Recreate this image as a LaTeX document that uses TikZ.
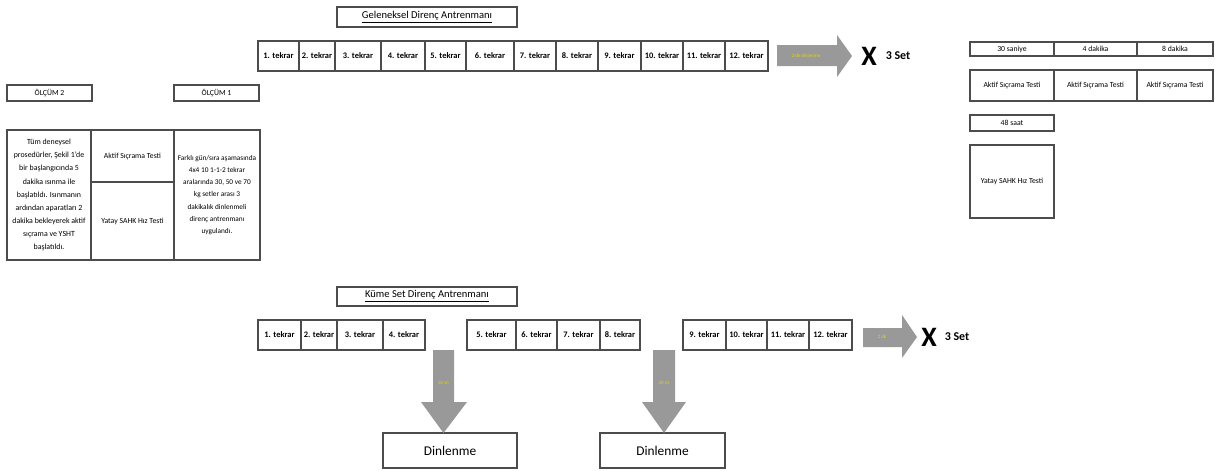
\documentclass[tikz,border=0pt]{standalone}
\usepackage{fontspec}
\setmainfont{Carlito}
\usepackage{tikz}
\usetikzlibrary{positioning}

\tikzset{
  alan/.style n args={4}{minimum width={(#3-#1)*0.025cm}, minimum height={(#4-#2)*0.025cm},
                         at={({(#1+#3)/2},{(#2+#4)/2})}},
  kutu/.style={draw=black!70, line width=0.8pt, inner sep=0pt, font=\fontsize{5.5}{7}\selectfont},
  tekrar/.style={kutu, font=\fontsize{6}{7}\selectfont\bfseries},
  baslik/.style={kutu, font=\fontsize{7.5}{9}\selectfont},
  dinlenme/.style={kutu, font=\fontsize{9.5}{11}\selectfont},
  okgri/.style={fill=gray!80, draw=none},
  oktext/.style={font=\fontsize{3.5}{4}\selectfont, text=yellow!75!olive, inner sep=0pt},
  carpi/.style={font=\fontsize{20}{20}\selectfont\bfseries, inner sep=0pt},
  setyazi/.style={font=\fontsize{8.5}{9}\selectfont\bfseries, inner sep=0pt}
}

\begin{document}
\begin{tikzpicture}[x=0.025cm, y=-0.025cm]
  \useasboundingbox (0,0) rectangle (1215,470);

  % geleneksel direnc antrenmani
  \node[baslik, alan={337}{7}{517}{27}] (gbaslik) {\underline{Geleneksel Direnç Antrenmanı}};
  \foreach \i/\a/\b in {1/258/299, 2/299/335, 3/335/381, 4/381/425, 5/425/466, 6/466/514,
                        7/514/556, 8/556/598, 9/598/641, 10/641/683, 11/683/725, 12/725/768}
    \node[tekrar, alan={\a}{41}{\b}{71}] (g\i) {\i. tekrar};
  \fill[okgri] (777,45) -- (837,45) -- (837,35) -- (852,56) -- (837,77) -- (837,66) -- (777,66) -- cycle;
  \node[oktext] (gdin) at (806,56) {2 dk dinlenme};
  \node[carpi] (gx) at (869,56) {X};
  \node[setyazi] (gset) at (898,56) {3 Set};

  % olcumler
  \node[kutu, alan={7}{85}{92}{101}] (olc2) {ÖLÇÜM 2};
  \node[kutu, alan={174}{85}{259}{101}] (olc1) {ÖLÇÜM 1};
  \node[kutu, alan={7}{130}{91}{260}, font=\fontsize{5.6}{9.3}\selectfont, align=center] (prosedur)
    {Tüm deneysel\\ prosedürler, Şekil 1'de\\ bir başlangıcında 5\\ dakika ısınma ile\\ başlatıldı. Isınmanın\\
     ardından aparatları 2\\ dakika bekleyerek aktif\\ sıçrama ve YSHT\\ başlatıldı.};
  \node[kutu, alan={91}{130}{174}{182}] (aktif) {Aktif Sıçrama Testi};
  \node[kutu, alan={91}{182}{174}{260}] (yatay) {Yatay SAHK Hız Testi};
  \node[kutu, alan={174}{130}{260}{260}, font=\fontsize{5.2}{8.7}\selectfont, align=center] (uygulama)
    {Farklı gün/sıra aşamasında\\ 4x4 10 1-1-2 tekrar\\ aralarında 30, 50 ve 70\\ kg setler arası 3\\
     dakikalık dinlenmeli\\ direnç antrenmanı\\ uygulandı.};

  % sag taraf
  \node[kutu, alan={970}{42}{1054}{56}] (s30) {30 saniye};
  \node[kutu, alan={1054}{42}{1137}{56}] (s4) {4 dakika};
  \node[kutu, alan={1137}{42}{1213}{56}] (s8) {8 dakika};
  \node[kutu, alan={970}{70}{1054}{101}] (a30) {Aktif Sıçrama Testi};
  \node[kutu, alan={1054}{70}{1137}{101}] (a4) {Aktif Sıçrama Testi};
  \node[kutu, alan={1137}{70}{1213}{101}] (a8) {Aktif Sıçrama Testi};
  \node[kutu, alan={970}{115}{1054}{131}] (s48) {48 saat};
  \node[kutu, alan={970}{145}{1054}{218}] (y48) {Yatay SAHK Hız Testi};

  % kume set direnc antrenmani
  \node[baslik, alan={337}{287}{517}{306}] (kbaslik) {\underline{Küme Set Direnç Antrenmanı}};
  \foreach \i/\a/\b in {1/258/301, 2/301/337, 3/337/383, 4/383/425, 5/467/516, 6/516/557,
                        7/557/600, 8/600/640, 9/683/726, 10/726/767, 11/767/809, 12/809/852}
    \node[tekrar, alan={\a}{320}{\b}{350}] (k\i) {\i. tekrar};
  \fill[okgri] (863,328) -- (902,328) -- (902,315) -- (917,337) -- (902,358) -- (902,347) -- (863,347) -- cycle;
  \node[oktext] (kdin) at (882,337) {2 dk};
  \node[carpi] (kx) at (929,337) {X};
  \node[setyazi] (kset) at (957,337) {3 Set};

  \node[dinlenme, alan={383}{433}{517}{468}] (din1) {Dinlenme};
  \node[dinlenme, alan={600}{433}{725}{468}] (din2) {Dinlenme};
  \fill[okgri] (433,350) -- (454,350) -- (454,402) -- (467,402) -- (443.5,433) -- (421,402) -- (433,402) -- cycle;
  \fill[okgri] (653,350) -- (675,350) -- (675,402) -- (686,402) -- (664,433) -- (642,402) -- (653,402) -- cycle;
  \node[oktext] (ddin1) at (443.5,383) {30 sn};
  \node[oktext] (ddin2) at (664,383) {30 sn};
\end{tikzpicture}
\end{document}
